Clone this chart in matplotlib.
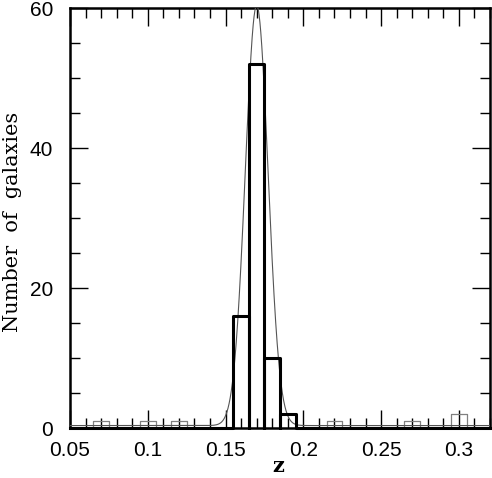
#!/usr/bin/env python3
"""Redshift histogram of galaxies with a Gaussian fit."""

import numpy as np
import matplotlib

matplotlib.use("Agg")
import matplotlib.pyplot as plt
from matplotlib.ticker import MultipleLocator

# bold histogram (members), bin edges start at 0.155, width 0.01
MEMBER_LEFT = [0.155, 0.165, 0.175, 0.185]
MEMBER_COUNTS = [16, 52, 10, 2]

# thin grey histogram (other galaxies)
FIELD_LEFT = [0.065, 0.095, 0.115, 0.215, 0.265, 0.295]
FIELD_COUNTS = [1, 1, 1, 1, 1, 2]

BIN_WIDTH = 0.01

# gaussian fit parameters
FIT_CENTER = 0.170
FIT_SIGMA = 0.0073
FIT_PEAK = 60.0
FIT_BACKGROUND = 0.35

XLIM = (0.05, 0.32)
YLIM = (0, 60)
XTICKS = [0.05, 0.1, 0.15, 0.2, 0.25, 0.3]
XTICK_LABELS = ["0.05", "0.1", "0.15", "0.2", "0.25", "0.3"]


def step_outline(lefts, counts, width):
    xs, ys = [], []
    for left, count in zip(lefts, counts):
        xs += [left, left, left + width, left + width]
        ys += [0, count, count, 0]
    return xs, ys


def main():
    fig = plt.figure(figsize=(4.92, 4.78), dpi=100)
    ax = fig.add_axes([70 / 492, 1 - 428 / 478, 420 / 492, 420 / 478])

    # grey histogram boxes
    for left, count in zip(FIELD_LEFT, FIELD_COUNTS):
        ax.plot([left, left, left + BIN_WIDTH, left + BIN_WIDTH],
                [0, count, count, 0], color="#808080", lw=0.9, zorder=2)

    # gaussian fit
    z = np.linspace(XLIM[0], XLIM[1], 2000)
    fit = FIT_PEAK * np.exp(-0.5 * ((z - FIT_CENTER) / FIT_SIGMA) ** 2) + FIT_BACKGROUND
    ax.plot(z, fit, color="#555555", lw=0.8, zorder=3)

    # bold member histogram
    xs, ys = step_outline(MEMBER_LEFT, MEMBER_COUNTS, BIN_WIDTH)
    xs = [XLIM[0]] + xs + [XLIM[1]]
    ys = [0] + ys + [0]
    ax.plot(xs, ys, color="black", lw=2.2, zorder=4, clip_on=False)

    ax.set_xlim(*XLIM)
    ax.set_ylim(*YLIM)
    ax.xaxis.set_minor_locator(MultipleLocator(0.01))
    ax.yaxis.set_major_locator(MultipleLocator(20))
    ax.yaxis.set_minor_locator(MultipleLocator(5))
    ax.set_xticks(XTICKS)
    ax.set_xticklabels(XTICK_LABELS)
    ax.tick_params(which="both", direction="in", top=True, right=True,
                   width=1.0, labelsize=15)
    ax.tick_params(axis="x", pad=9)
    ax.tick_params(axis="y", pad=12)
    ax.tick_params(which="major", length=13)
    ax.tick_params(which="minor", length=7)
    for label in ax.get_xticklabels() + ax.get_yticklabels():
        label.set_family("Liberation Sans")
    for spine in ax.spines.values():
        spine.set_linewidth(1.8)

    fig.text(278 / 492, 1 - 466 / 478, "z", fontsize=15, family="DejaVu Serif",
             fontweight="bold", ha="center", va="center")
    fig.text(13 / 492, 1 - 222 / 478, "Number  of  galaxies", fontsize=15,
             family="DejaVu Serif", rotation=90, ha="center", va="center")

    fig.savefig("out.png", dpi=100, facecolor="white")
    plt.close(fig)


if __name__ == "__main__":
    main()
